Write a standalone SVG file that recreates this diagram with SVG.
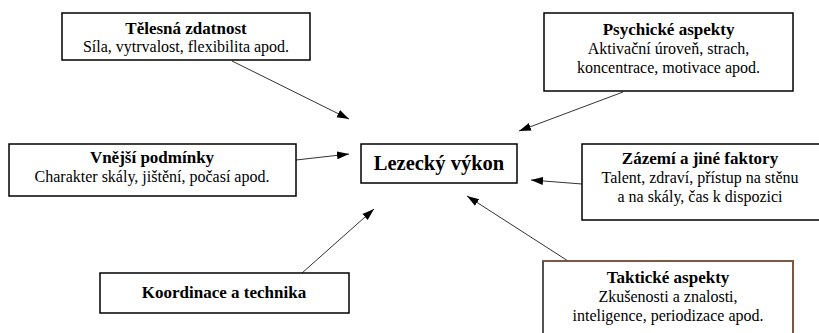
<svg xmlns="http://www.w3.org/2000/svg" width="819" height="333" viewBox="0 0 819 333">
<style>
.box{fill:#fff;stroke:#000;stroke-width:1.5}
text{font-family:"Liberation Serif","Times New Roman",serif;font-size:16px;fill:#000;text-anchor:middle}
.t{font-weight:bold;font-size:17px}
.big{font-weight:bold;font-size:20.5px}
.c{stroke:#333;stroke-width:1;fill:none;marker-end:url(#ah)}
</style>
<defs>
<marker id="ah" viewBox="0 0 12 10" refX="12" refY="5" markerWidth="12" markerHeight="10" markerUnits="userSpaceOnUse" orient="auto">
<path d="M0,1 L12,5 L0,9 Z" fill="#000"/>
</marker>
</defs>
<rect width="819" height="333" fill="#fff"/>
<g id="connectors">
<line class="c" x1="232" y1="61" x2="349" y2="119"/>
<line class="c" x1="296" y1="160" x2="349" y2="154"/>
<line class="c" x1="623" y1="92" x2="519" y2="131"/>
<line class="c" x1="582" y1="184" x2="531" y2="180"/>
<line class="c" x1="568" y1="261" x2="467" y2="196"/>
<line class="c" x1="302" y1="273" x2="374" y2="209"/>
</g>
<g id="telesna">
<rect class="box" x="62" y="13" width="248" height="47"/>
<text class="t" x="186" y="33.5">Tělesná zdatnost</text>
<text x="186" y="52">Síla, vytrvalost, flexibilita apod.</text>
</g>
<g id="psychicke">
<rect class="box" x="544" y="13" width="249" height="78"/>
<text class="t" x="668.5" y="35">Psychické aspekty</text>
<text x="668.5" y="54">Aktivační úroveň, strach,</text>
<text x="668.5" y="73">koncentrace, motivace apod.</text>
</g>
<g id="vnejsi">
<rect class="box" x="9" y="144" width="287" height="52"/>
<text class="t" x="152" y="163">Vnější podmínky</text>
<text x="152" y="182">Charakter skály, jištění, počasí apod.</text>
</g>
<g id="lezecky">
<rect class="box" x="361" y="144" width="156" height="39"/>
<text class="big" x="439" y="170">Lezecký výkon</text>
</g>
<g id="zazemi">
<rect class="box" x="582" y="144" width="240" height="76"/>
<text class="t" x="700" y="164">Zázemí a jiné faktory</text>
<text x="700" y="183">Talent, zdraví, přístup na stěnu</text>
<text x="700" y="202">a na skály, čas k dispozici</text>
</g>
<g id="koordinace">
<rect class="box" x="100" y="273" width="249" height="40"/>
<text class="t" x="224" y="298">Koordinace a technika</text>
</g>
<g id="takticke">
<path d="M543,340 L543,261 L793,261 L793,340" fill="#fff" stroke="#1a1a1a" stroke-width="1.5"/>
<path d="M543,261 L793,261 L793,340" fill="none" stroke="#8b5a3c" stroke-width="1.5"/>
<text class="t" x="668" y="283">Taktické aspekty</text>
<text x="668" y="302">Zkušenosti a znalosti,</text>
<text x="668" y="321">inteligence, periodizace apod.</text>
</g>
</svg>
